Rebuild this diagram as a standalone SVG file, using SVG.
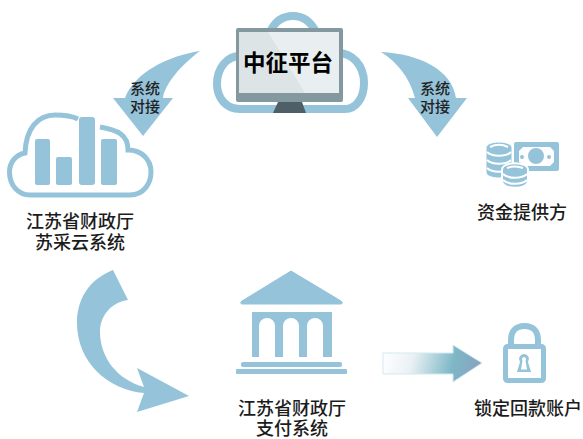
<svg xmlns="http://www.w3.org/2000/svg" width="583" height="439" viewBox="0 0 583 439">
<style>
text{font-family:"Liberation Sans","Noto Sans CJK SC",sans-serif;text-anchor:middle;fill:#1c1c1c}
.l{font-size:18px;font-weight:500}
.s{font-size:15px;font-weight:500;fill:#222}
.f{fill:#94c3da}
.o{fill:none;stroke:#94c3da}
</style>
<defs>
<linearGradient id="g" x1="383" y1="350" x2="482" y2="375" gradientUnits="userSpaceOnUse">
<stop offset="0" stop-color="#ffffff"/><stop offset=".3" stop-color="#eaf1f4"/><stop offset=".7" stop-color="#7db7c6"/><stop offset="1" stop-color="#8b9fc0"/>
</linearGradient>
</defs>
<rect width="583" height="439" fill="#fff"/>
<g id="connectors">
<path class="f" d="M200,51 C168,56 135,72 125,98 L113,98 L143,136 L173,98 L163,98 C165,84 180,66 200,51Z"/>
<path class="f" d="M381,52 C420,54 452,70 456,98 L467,98 L437,137 L408,98 L415,98 C410,78 397,62 381,52Z"/>
<path class="f" d="M113,270 C88,280 77,300 77,323 C77,362 108,390 144,393 L137,412 L189,396 L137,368 L144,387 C118,380 100,358 100,332 C100,315 112,302 128,300Z"/>
<path d="M383,353 H453 V345 L482,363 L453,382 V374 H383Z" fill="url(#g)" stroke="#d3e9f1" stroke-width="1"/>
<text class="s"><tspan x="145" y="94">系统</tspan><tspan x="145" y="112">对接</tspan></text>
<text class="s"><tspan x="435" y="94">系统</tspan><tspan x="435" y="112">对接</tspan></text>
</g>
<g id="platform">
<path class="o" stroke-width="8" d="M240,109 H345 C356,109 364,98 364,83 C364,65 352,53 338,53 C328,53 322,56 316,32 C310,20 302,16 293,16 C283,16 275,21 270,32 M240,109 C226,109 217,98 217,84 C217,68 227,56 240,56"/>
<rect x="236" y="28" width="107" height="74" rx="2" fill="#84989f"/>
<rect x="239" y="32" width="100" height="61" fill="#e9eef0"/>
<path d="M239,32 H268 L305,93 H239Z" fill="#dde4e6"/>
<path d="M278,102 H302 L306,113 H273Z" fill="#4f5f68"/>
<text x="288" y="71" font-size="22.500" font-weight="700" style="fill:#000">中征平台</text>
</g>
<g id="cloud-system">
<path class="o" stroke-width="5" d="M78,119 C70,115 62,115 55,115 C38,115 26,128 25,153 C15,155 9.500,163 9.500,172 C9.500,185 18,195 30,195 H130 C144,195 151,183 151,172 C151,160 142,150 128,150 C128,135 118,130 100,127"/>
<rect class="f" x="35" y="139" width="15" height="46" rx="2"/>
<rect class="f" x="56" y="157" width="16" height="28" rx="2"/>
<rect class="f" x="79" y="117" width="16" height="68" rx="3"/>
<rect class="f" x="101" y="139" width="16" height="46" rx="2"/>
<text class="l"><tspan x="80" y="228">江苏省财政厅</tspan><tspan x="80" y="249">苏采云系统</tspan></text>
</g>
<g id="funder">
<path class="f" d="M514,144 Q514,142 516,142 H557 Q559,142 559,144 V169 Q559,171 557,171 H516 Q514,171 514,169Z"/>
<path d="M523,147 H550 L554,151 V162 L550,166 H523 L519,162 V151Z" fill="#fff"/>
<circle class="f" cx="536" cy="156" r="8"/>
<circle class="f" cx="522" cy="157" r="2"/><circle class="f" cx="549" cy="157" r="2"/>
<path class="f" d="M486,148 C486,140 512,140 512,148 V172 C512,180 486,180 486,172Z" stroke="#fff" stroke-width="1"/>
<path d="M487,152 C492,157 506,157 511,152 M487,160 C492,165 506,165 511,160 M487,168 C492,173 506,173 511,168 M490,147 C496,144 502,144 508,147" fill="none" stroke="#fff" stroke-width="2"/>
<path class="f" d="M502,170 C502,161 528,161 528,170 V181 C528,190 502,190 502,181Z" stroke="#fff" stroke-width="2"/>
<path d="M503,174 C508,179 522,179 527,174 M503,180 C508,185 522,185 527,180 M507,168 C512,166 518,166 523,168" fill="none" stroke="#fff" stroke-width="2"/>
<text class="l" x="522" y="219">资金提供方</text>
</g>
<g id="bank">
<path class="f" d="M291,271 L341,301 Q344,304 340,304 H243 Q239,304 242,301Z" stroke="#94c3da" stroke-linejoin="round"/>
<path class="f" d="M252,312 H332 V357 H323 V326 A8,8 0 0 0 307,326 V357 H299 V326 A8,8 0 0 0 283,326 V357 H275 V326 A8,8 0 0 0 259,326 V357 H252Z"/>
<rect class="f" x="241" y="362" width="101" height="5" rx="2"/>
<rect class="f" x="236" y="369" width="111" height="5" rx="1"/>
<text class="l"><tspan x="292" y="415">江苏省财政厅</tspan><tspan x="292" y="435">支付系统</tspan></text>
</g>
<g id="lock">
<path class="o" stroke-width="6" d="M511,344 V340 C511,331 516,326 524.500,326 C533,326 538,331 538,340 V344"/>
<rect class="o" x="505.500" y="346.500" width="38" height="34" rx="2" stroke-width="5"/>
<path class="f" d="M524,354 A5,5 0 0 1 528,362 L531,372 H517 L520,362 A5,5 0 0 1 524,354Z"/>
<path d="M524,357 A2.500,2.500 0 0 1 525.500,361 L527,369.500 H521 L522.500,361 A2.500,2.500 0 0 1 524,357Z" fill="#fff"/>
<text class="l" x="528" y="415">锁定回款账户</text>
</g>
</svg>
